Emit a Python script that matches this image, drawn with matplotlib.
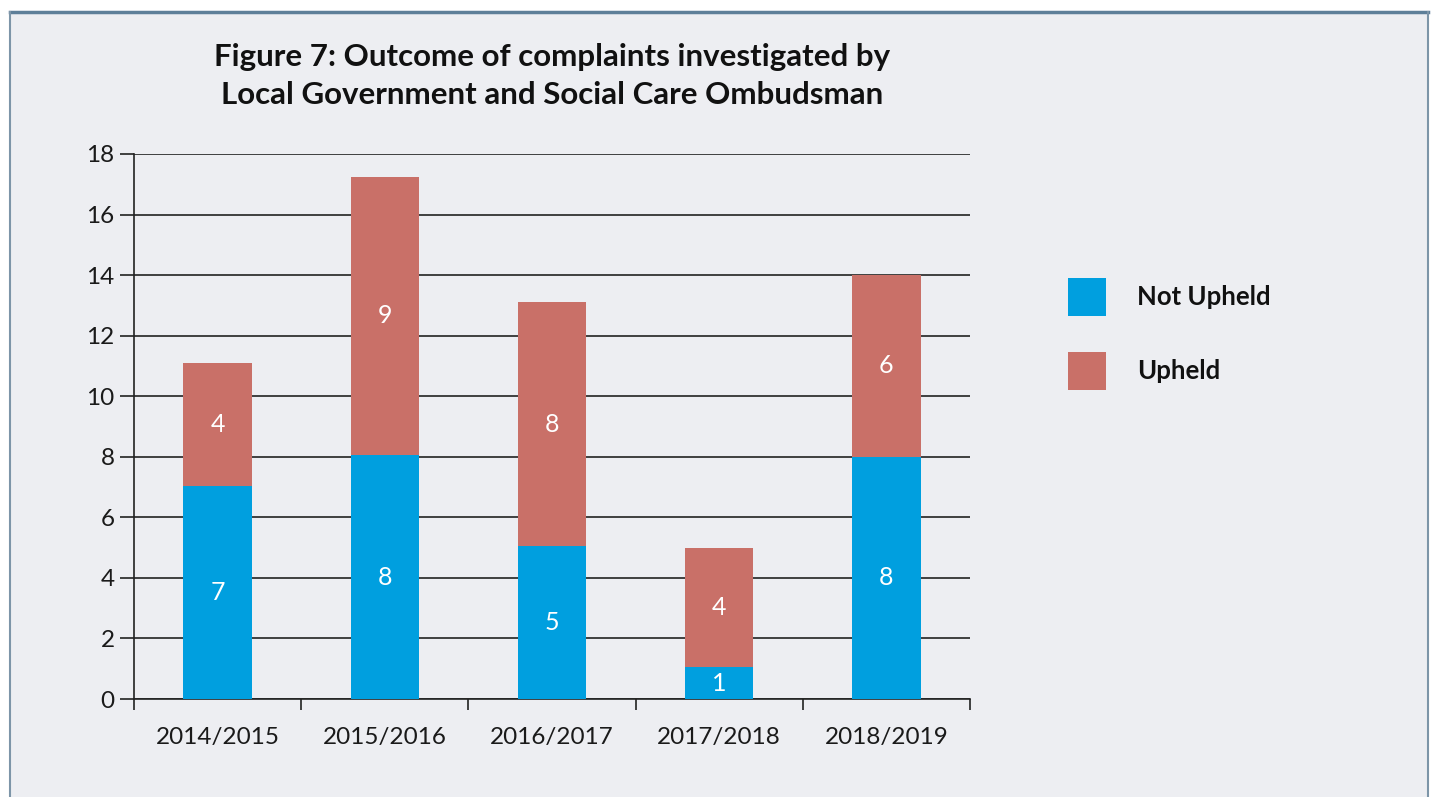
import numpy as np
import matplotlib.pyplot as plt
from matplotlib.patches import Rectangle

years = ["2014/2015", "2015/2016", "2016/2017", "2017/2018", "2018/2019"]
# labelled counts
not_upheld = [7, 8, 5, 1, 8]
upheld = [4, 9, 8, 4, 6]
# segment heights as drawn in the source chart (slightly off the labels)
not_upheld_h = [7.05, 8.05, 5.05, 1.05, 8.0]
upheld_h = [4.05, 9.2, 8.05, 3.95, 6.0]

blue = "#009FDF"
red = "#C97068"
bg = "#EDEEF2"

plt.rcParams["font.family"] = ["Lato", "DejaVu Sans"]

fig = plt.figure(figsize=(14.36, 7.97), dpi=100)
fig.patch.set_facecolor("white")
W, H = 1436, 797

# grey panel with blue-grey frame (top, left, right)
fig.patches.append(Rectangle((10 / W, 0), 1418 / W, 1 - 12 / H, transform=fig.transFigure,
                             facecolor=bg, edgecolor="none", zorder=-5))
fig.add_artist(plt.Line2D([10 / W, 1428 / W], [1 - 12 / H] * 2, color="#5E7F99", lw=2.5))
fig.add_artist(plt.Line2D([10 / W] * 2, [0, 1 - 12 / H], color="#7D95A8", lw=1.5))
fig.add_artist(plt.Line2D([1428 / W] * 2, [0, 1 - 12 / H], color="#7D95A8", lw=1.5))

ax = fig.add_axes([134 / W, 1 - 699 / H, (970 - 134) / W, (699 - 154) / H])
ax.set_facecolor("none")

x = np.arange(len(years))
w = 0.41
ax.bar(x, not_upheld_h, w, color=blue, label="Not Upheld", zorder=3)
ax.bar(x, upheld_h, w, bottom=not_upheld_h, color=red, label="Upheld", zorder=3)

for i in range(len(years)):
    ax.text(x[i], not_upheld_h[i] / 2, str(not_upheld[i]), ha="center", va="center",
            color="white", fontsize=18, zorder=4)
    ax.text(x[i], not_upheld_h[i] + upheld_h[i] / 2, str(upheld[i]), ha="center", va="center",
            color="white", fontsize=18, zorder=4)

ax.set_xlim(-0.5, len(years) - 0.5)
ax.set_ylim(0, 18)
ax.set_yticks(range(0, 19, 2))
ax.yaxis.grid(True, color="#222222", lw=1.2, zorder=1)
ax.set_axisbelow(True)
for s in ["top", "right"]:
    ax.spines[s].set_visible(False)
ax.spines["left"].set_color("#222222")
ax.spines["bottom"].set_color("#222222")
ax.spines["left"].set_linewidth(1.2)
ax.spines["bottom"].set_linewidth(1.2)

ax.set_xticks(x)
ax.set_xticklabels(years, fontsize=17.5, color="#1a1a1a")
ax.tick_params(axis="x", length=0, pad=20)
ax.set_xticks(np.arange(-0.5, len(years), 1), minor=True)
ax.tick_params(axis="x", which="minor", length=8, width=1.2, color="#222222", direction="out")
ax.tick_params(axis="y", length=10, width=1.2, color="#222222", labelsize=17.5,
               labelcolor="#1a1a1a", pad=4)

fig.text(552 / W, 1 - 57 / H, "Figure 7: Outcome of complaints investigated by",
         ha="center", va="center", fontsize=22.5, fontweight="bold", color="#111111")
fig.text(552 / W, 1 - 95 / H, "Local Government and Social Care Ombudsman",
         ha="center", va="center", fontsize=22.5, fontweight="bold", color="#111111")

# legend
for label, col, yc in [("Not Upheld", blue, 297), ("Upheld", red, 371)]:
    fig.patches.append(Rectangle((1068 / W, 1 - (yc + 19) / H), 38 / W, 38 / H,
                                 transform=fig.transFigure, facecolor=col, edgecolor="none"))
    fig.text(1137 / W, 1 - yc / H, label, ha="left", va="center",
             fontsize=18.5, fontweight="bold", color="#111111")

fig.savefig("out.png", dpi=100, facecolor=fig.get_facecolor())
